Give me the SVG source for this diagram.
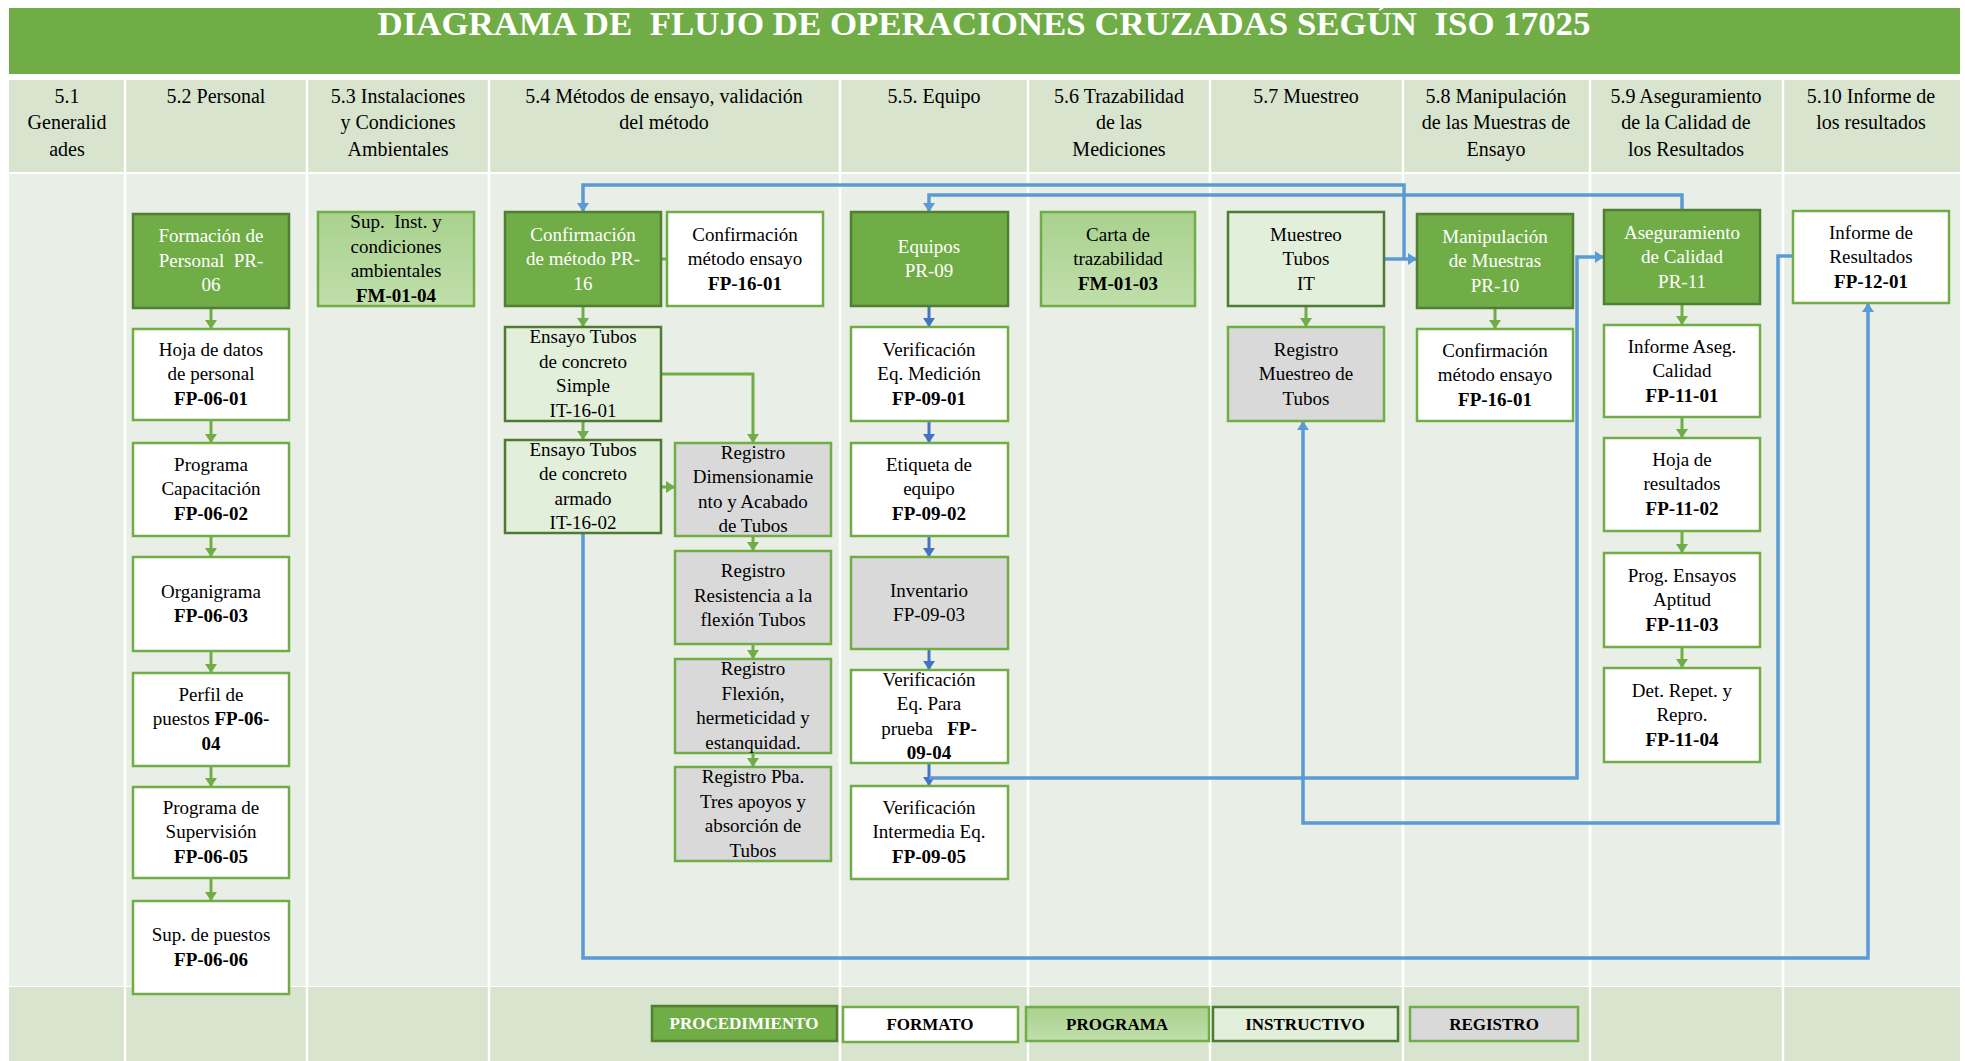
<svg xmlns="http://www.w3.org/2000/svg" width="1965" height="1061" viewBox="0 0 1965 1061">
  <style>
    .t { font-family: "Liberation Serif", "Times New Roman", serif; font-size: 19px; text-anchor: middle; fill: #000; }
    .h { font-family: "Liberation Serif", "Times New Roman", serif; font-size: 20px; text-anchor: middle; fill: #000; }
    .lg { font-family: "Liberation Serif", "Times New Roman", serif; font-size: 17px; font-weight: bold; text-anchor: middle; fill: #000; }
    .w { fill: #fff; }
    .b { font-weight: bold; }
    .proc { fill: #70ad47; stroke: #507e32; stroke-width: 2.5; }
    .fmt { fill: #fff; stroke: #70ad47; stroke-width: 2.5; }
    .prg { fill: url(#gProg); stroke: #70ad47; stroke-width: 2.5; }
    .ins { fill: #e2efda; stroke: #4f7a34; stroke-width: 2.5; }
    .reg { fill: #d9d9d9; stroke: #70ad47; stroke-width: 2.5; }
    .cg { fill: none; stroke: #70ad47; stroke-width: 3; marker-end: url(#arrG); }
    .cd { fill: none; stroke: #4472c4; stroke-width: 3; marker-end: url(#arrD); }
    .cb { fill: none; stroke: #5b9bd5; stroke-width: 3.5; }
    .cba { fill: none; stroke: #5b9bd5; stroke-width: 3.5; marker-end: url(#arrB); }
    .col { stroke: #ffffff; stroke-width: 2.5; }
  </style>
  <defs>
    <linearGradient id="gProg" x1="0" y1="0" x2="0" y2="1">
      <stop offset="0" stop-color="#a9d18e"/>
      <stop offset="1" stop-color="#c0dfab"/>
    </linearGradient>
    <marker id="arrG" markerUnits="userSpaceOnUse" markerWidth="12" markerHeight="12" refX="9" refY="6" orient="auto">
      <path d="M0,0 L9,6 L0,12 z" fill="#70ad47"/>
    </marker>
    <marker id="arrD" markerUnits="userSpaceOnUse" markerWidth="12" markerHeight="12" refX="9" refY="6" orient="auto">
      <path d="M0,0 L9,6 L0,12 z" fill="#4472c4"/>
    </marker>
    <marker id="arrB" markerUnits="userSpaceOnUse" markerWidth="12" markerHeight="12" refX="9" refY="6" orient="auto">
      <path d="M0,0 L9,6 L0,12 z" fill="#5b9bd5"/>
    </marker>
  </defs>

  <rect width="1965" height="1061" fill="#fff"/>

  <!-- title bar -->
  <g id="title">
    <rect x="9" y="8" width="1951" height="66" fill="#70ad47"/>
    <text x="984" y="35" font-family="'Liberation Serif', 'Times New Roman', serif" font-size="33" font-weight="bold" fill="#fff" text-anchor="middle" style="white-space:pre" textLength="1213" lengthAdjust="spacingAndGlyphs">DIAGRAMA DE  FLUJO DE OPERACIONES CRUZADAS SEGÚN  ISO 17025</text>
  </g>

  <!-- swimlane table -->
  <g id="lanes">
    <rect x="9" y="80" width="1951" height="92" fill="#d8e4ce"/>
    <rect x="9" y="174" width="1951" height="812" fill="#e9efe6"/>
    <rect x="9" y="987" width="1951" height="74" fill="#d8e4ce"/>
    <g class="col">
      <line x1="125" y1="80" x2="125" y2="1061"/>
      <line x1="307" y1="80" x2="307" y2="1061"/>
      <line x1="489" y1="80" x2="489" y2="1061"/>
      <line x1="840" y1="80" x2="840" y2="1061"/>
      <line x1="1028" y1="80" x2="1028" y2="1061"/>
      <line x1="1210" y1="80" x2="1210" y2="1061"/>
      <line x1="1403" y1="80" x2="1403" y2="1061"/>
      <line x1="1590" y1="80" x2="1590" y2="1061"/>
      <line x1="1783" y1="80" x2="1783" y2="1061"/>
    </g>
    <g class="h">
      <text x="67" y="103">5.1</text>
      <text x="67" y="129">Generalid</text>
      <text x="67" y="156">ades</text>
      <text x="216" y="103">5.2 Personal</text>
      <text x="398" y="103">5.3 Instalaciones</text>
      <text x="398" y="129">y Condiciones</text>
      <text x="398" y="156">Ambientales</text>
      <text x="664" y="103">5.4 Métodos de ensayo, validación</text>
      <text x="664" y="129">del método</text>
      <text x="934" y="103">5.5. Equipo</text>
      <text x="1119" y="103">5.6 Trazabilidad</text>
      <text x="1119" y="129">de las</text>
      <text x="1119" y="156">Mediciones</text>
      <text x="1306" y="103">5.7 Muestreo</text>
      <text x="1496" y="103">5.8 Manipulación</text>
      <text x="1496" y="129">de las Muestras de</text>
      <text x="1496" y="156">Ensayo</text>
      <text x="1686" y="103">5.9 Aseguramiento</text>
      <text x="1686" y="129">de la Calidad de</text>
      <text x="1686" y="156">los Resultados</text>
      <text x="1871" y="103">5.10 Informe de</text>
      <text x="1871" y="129">los resultados</text>
    </g>
  </g>

  <!-- connectors -->
  <g id="connectors">
    <!-- 5.2 chain -->
    <path class="cg" d="M211,308 V329"/>
    <path class="cg" d="M211,420 V443"/>
    <path class="cg" d="M211,536 V557"/>
    <path class="cg" d="M211,651 V673"/>
    <path class="cg" d="M211,766 V787"/>
    <path class="cg" d="M211,878 V901"/>
    <!-- 5.4 chain -->
    <path d="M661,259 H667" fill="none" stroke="#70ad47" stroke-width="3"/>
    <path class="cg" d="M583,306 V327"/>
    <path class="cg" d="M583,421 V440"/>
    <path class="cg" d="M661,374 H753 V443"/>
    <path class="cg" d="M661,487 H675"/>
    <path class="cg" d="M753,536 V551"/>
    <path class="cg" d="M753,644 V659"/>
    <path class="cg" d="M753,753 V767"/>
    <!-- 5.5 chain -->
    <path class="cd" d="M929,306 V327"/>
    <path class="cd" d="M929,421 V443"/>
    <path class="cd" d="M929,536 V557"/>
    <path class="cd" d="M929,649 V670"/>
    <path class="cd" d="M929,763 V786"/>
    <!-- 5.7 / 5.8 / 5.9 -->
    <path class="cg" d="M1306,306 V327"/>
    <path class="cg" d="M1495,308 V329"/>
    <path class="cg" d="M1682,304 V325"/>
    <path class="cg" d="M1682,417 V438"/>
    <path class="cg" d="M1682,531 V553"/>
    <path class="cg" d="M1682,647 V668"/>
    <!-- cross-lane links -->
    <path class="cba" d="M1384,259 H1417"/>
    <path class="cba" d="M1404,259 V185 H583 V212"/>
    <path class="cba" d="M1682,210 V195 H929 V212"/>
    <path class="cba" d="M929,778 H1577 V257 H1604"/>
    <path class="cba" d="M1793,256 H1778 V823 H1303 V421"/>
    <path class="cba" d="M583,533 V958 H1868 V303"/>
  </g>

  <!-- 5.2 Personal -->
  <g id="n-pr06">
    <rect class="proc" x="133" y="214" width="156" height="94"/>
    <text class="t w" x="211" y="242">Formación de</text>
    <text class="t w" x="211" y="267" style="white-space:pre">Personal  PR-</text>
    <text class="t w" x="211" y="291">06</text>
  </g>
  <g id="n-fp0601">
    <rect class="fmt" x="133" y="329" width="156" height="91"/>
    <text class="t" x="211" y="356">Hoja de datos</text>
    <text class="t" x="211" y="380">de personal</text>
    <text class="t b" x="211" y="405">FP-06-01</text>
  </g>
  <g id="n-fp0602">
    <rect class="fmt" x="133" y="443" width="156" height="93"/>
    <text class="t" x="211" y="471">Programa</text>
    <text class="t" x="211" y="495">Capacitación</text>
    <text class="t b" x="211" y="520">FP-06-02</text>
  </g>
  <g id="n-fp0603">
    <rect class="fmt" x="133" y="557" width="156" height="94"/>
    <text class="t" x="211" y="598">Organigrama</text>
    <text class="t b" x="211" y="622">FP-06-03</text>
  </g>
  <g id="n-fp0604">
    <rect class="fmt" x="133" y="673" width="156" height="93"/>
    <text class="t" x="211" y="701">Perfil de</text>
    <text class="t" x="211" y="725">puestos <tspan class="b">FP-06-</tspan></text>
    <text class="t b" x="211" y="750">04</text>
  </g>
  <g id="n-fp0605">
    <rect class="fmt" x="133" y="787" width="156" height="91"/>
    <text class="t" x="211" y="814">Programa de</text>
    <text class="t" x="211" y="838">Supervisión</text>
    <text class="t b" x="211" y="863">FP-06-05</text>
  </g>
  <g id="n-fp0606">
    <rect class="fmt" x="133" y="901" width="156" height="93"/>
    <text class="t" x="211" y="941">Sup. de puestos</text>
    <text class="t b" x="211" y="966">FP-06-06</text>
  </g>

  <!-- 5.3 Instalaciones -->
  <g id="n-fm0104">
    <rect class="prg" x="318" y="212" width="156" height="94"/>
    <text class="t" x="396" y="228" style="white-space:pre">Sup.  Inst. y</text>
    <text class="t" x="396" y="253">condiciones</text>
    <text class="t" x="396" y="277">ambientales</text>
    <text class="t b" x="396" y="302">FM-01-04</text>
  </g>

  <!-- 5.4 Métodos -->
  <g id="n-pr16">
    <rect class="proc" x="505" y="212" width="156" height="94"/>
    <text class="t w" x="583" y="241">Confirmación</text>
    <text class="t w" x="583" y="265">de método PR-</text>
    <text class="t w" x="583" y="290">16</text>
  </g>
  <g id="n-fp1601a">
    <rect class="fmt" x="667" y="212" width="156" height="94"/>
    <text class="t" x="745" y="241">Confirmación</text>
    <text class="t" x="745" y="265">método ensayo</text>
    <text class="t b" x="745" y="290">FP-16-01</text>
  </g>
  <g id="n-it1601">
    <rect class="ins" x="505" y="327" width="156" height="94"/>
    <text class="t" x="583" y="343">Ensayo Tubos</text>
    <text class="t" x="583" y="368">de concreto</text>
    <text class="t" x="583" y="392">Simple</text>
    <text class="t" x="583" y="417">IT-16-01</text>
  </g>
  <g id="n-it1602">
    <rect class="ins" x="505" y="440" width="156" height="93"/>
    <text class="t" x="583" y="456">Ensayo Tubos</text>
    <text class="t" x="583" y="480">de concreto</text>
    <text class="t" x="583" y="505">armado</text>
    <text class="t" x="583" y="529">IT-16-02</text>
  </g>
  <g id="n-reg-dim">
    <rect class="reg" x="675" y="443" width="156" height="93"/>
    <text class="t" x="753" y="459">Registro</text>
    <text class="t" x="753" y="483">Dimensionamie</text>
    <text class="t" x="753" y="508">nto y Acabado</text>
    <text class="t" x="753" y="532">de Tubos</text>
  </g>
  <g id="n-reg-res">
    <rect class="reg" x="675" y="551" width="156" height="93"/>
    <text class="t" x="753" y="577">Registro</text>
    <text class="t" x="753" y="602">Resistencia a la</text>
    <text class="t" x="753" y="626">flexión Tubos</text>
  </g>
  <g id="n-reg-flex">
    <rect class="reg" x="675" y="659" width="156" height="94"/>
    <text class="t" x="753" y="675">Registro</text>
    <text class="t" x="753" y="700">Flexión,</text>
    <text class="t" x="753" y="724">hermeticidad y</text>
    <text class="t" x="753" y="749">estanquidad.</text>
  </g>
  <g id="n-reg-pba">
    <rect class="reg" x="675" y="767" width="156" height="94"/>
    <text class="t" x="753" y="783">Registro Pba.</text>
    <text class="t" x="753" y="808">Tres apoyos y</text>
    <text class="t" x="753" y="832">absorción de</text>
    <text class="t" x="753" y="857">Tubos</text>
  </g>

  <!-- 5.5 Equipo -->
  <g id="n-pr09">
    <rect class="proc" x="851" y="212" width="157" height="94"/>
    <text class="t w" x="929" y="253">Equipos</text>
    <text class="t w" x="929" y="277">PR-09</text>
  </g>
  <g id="n-fp0901">
    <rect class="fmt" x="851" y="327" width="157" height="94"/>
    <text class="t" x="929" y="356">Verificación</text>
    <text class="t" x="929" y="380">Eq. Medición</text>
    <text class="t b" x="929" y="405">FP-09-01</text>
  </g>
  <g id="n-fp0902">
    <rect class="fmt" x="851" y="443" width="157" height="93"/>
    <text class="t" x="929" y="471">Etiqueta de</text>
    <text class="t" x="929" y="495">equipo</text>
    <text class="t b" x="929" y="520">FP-09-02</text>
  </g>
  <g id="n-fp0903">
    <rect class="reg" x="851" y="557" width="157" height="92"/>
    <text class="t" x="929" y="597">Inventario</text>
    <text class="t" x="929" y="621">FP-09-03</text>
  </g>
  <g id="n-fp0904">
    <rect class="fmt" x="851" y="670" width="157" height="93"/>
    <text class="t" x="929" y="686">Verificación</text>
    <text class="t" x="929" y="710">Eq. Para</text>
    <text class="t" x="929" y="735" style="white-space:pre">prueba   <tspan class="b">FP-</tspan></text>
    <text class="t b" x="929" y="759">09-04</text>
  </g>
  <g id="n-fp0905">
    <rect class="fmt" x="851" y="786" width="157" height="93"/>
    <text class="t" x="929" y="814">Verificación</text>
    <text class="t" x="929" y="838">Intermedia Eq.</text>
    <text class="t b" x="929" y="863">FP-09-05</text>
  </g>

  <!-- 5.6 Trazabilidad -->
  <g id="n-fm0103">
    <rect class="prg" x="1041" y="212" width="154" height="94"/>
    <text class="t" x="1118" y="241">Carta de</text>
    <text class="t" x="1118" y="265">trazabilidad</text>
    <text class="t b" x="1118" y="290">FM-01-03</text>
  </g>

  <!-- 5.7 Muestreo -->
  <g id="n-it-muestreo">
    <rect class="ins" x="1228" y="212" width="156" height="94"/>
    <text class="t" x="1306" y="241">Muestreo</text>
    <text class="t" x="1306" y="265">Tubos</text>
    <text class="t" x="1306" y="290">IT</text>
  </g>
  <g id="n-reg-muestreo">
    <rect class="reg" x="1228" y="327" width="156" height="94"/>
    <text class="t" x="1306" y="356">Registro</text>
    <text class="t" x="1306" y="380">Muestreo de</text>
    <text class="t" x="1306" y="405">Tubos</text>
  </g>

  <!-- 5.8 Manipulación -->
  <g id="n-pr10">
    <rect class="proc" x="1417" y="214" width="156" height="94"/>
    <text class="t w" x="1495" y="243">Manipulación</text>
    <text class="t w" x="1495" y="267">de Muestras</text>
    <text class="t w" x="1495" y="292">PR-10</text>
  </g>
  <g id="n-fp1601b">
    <rect class="fmt" x="1417" y="329" width="156" height="92"/>
    <text class="t" x="1495" y="357">Confirmación</text>
    <text class="t" x="1495" y="381">método ensayo</text>
    <text class="t b" x="1495" y="406">FP-16-01</text>
  </g>

  <!-- 5.9 Aseguramiento -->
  <g id="n-pr11">
    <rect class="proc" x="1604" y="210" width="156" height="94"/>
    <text class="t w" x="1682" y="239">Aseguramiento</text>
    <text class="t w" x="1682" y="263">de Calidad</text>
    <text class="t w" x="1682" y="288">PR-11</text>
  </g>
  <g id="n-fp1101">
    <rect class="fmt" x="1604" y="325" width="156" height="92"/>
    <text class="t" x="1682" y="353">Informe Aseg.</text>
    <text class="t" x="1682" y="377">Calidad</text>
    <text class="t b" x="1682" y="402">FP-11-01</text>
  </g>
  <g id="n-fp1102">
    <rect class="fmt" x="1604" y="438" width="156" height="93"/>
    <text class="t" x="1682" y="466">Hoja de</text>
    <text class="t" x="1682" y="490">resultados</text>
    <text class="t b" x="1682" y="515">FP-11-02</text>
  </g>
  <g id="n-fp1103">
    <rect class="fmt" x="1604" y="553" width="156" height="94"/>
    <text class="t" x="1682" y="582">Prog. Ensayos</text>
    <text class="t" x="1682" y="606">Aptitud</text>
    <text class="t b" x="1682" y="631">FP-11-03</text>
  </g>
  <g id="n-fp1104">
    <rect class="fmt" x="1604" y="668" width="156" height="94"/>
    <text class="t" x="1682" y="697">Det. Repet. y</text>
    <text class="t" x="1682" y="721">Repro.</text>
    <text class="t b" x="1682" y="746">FP-11-04</text>
  </g>

  <!-- 5.10 Informe -->
  <g id="n-fp1201">
    <rect class="fmt" x="1793" y="211" width="156" height="92"/>
    <text class="t" x="1871" y="239">Informe de</text>
    <text class="t" x="1871" y="263">Resultados</text>
    <text class="t b" x="1871" y="288">FP-12-01</text>
  </g>

  <!-- legend -->
  <g id="legend">
    <rect class="proc" x="652" y="1006" width="185" height="35"/>
    <text class="lg w" x="744" y="1029">PROCEDIMIENTO</text>
    <rect class="fmt" x="843" y="1007" width="175" height="35"/>
    <text class="lg" x="930" y="1030">FORMATO</text>
    <rect class="prg" x="1026" y="1007" width="183" height="34"/>
    <text class="lg" x="1117" y="1030">PROGRAMA</text>
    <rect class="ins" x="1213" y="1007" width="185" height="34"/>
    <text class="lg" x="1305" y="1030">INSTRUCTIVO</text>
    <rect class="reg" x="1410" y="1007" width="168" height="34"/>
    <text class="lg" x="1494" y="1030">REGISTRO</text>
  </g>
</svg>
